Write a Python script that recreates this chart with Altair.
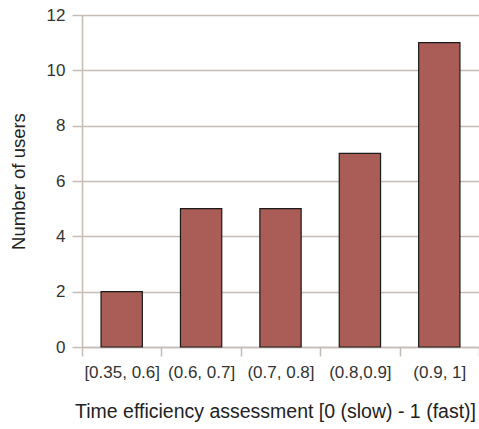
import altair as alt
import pandas as pd

categories = ["[0.35, 0.6]", "(0.6, 0.7]", "(0.7, 0.8]", "(0.8,0.9]", "(0.9, 1]"]
users = [2, 5, 5, 7, 11]

df = pd.DataFrame({"cat": categories, "users": users})

grid_col = "#c4bcb5"
font = "Liberation Sans"

chart = alt.Chart(df).mark_bar(
    width=alt.RelativeBandSize(0.52),
    fill="#aa5c56",
    stroke="#1a1a1a",
    strokeWidth=1.2,
).encode(
    x=alt.X(
        "cat:N",
        sort=categories,
        scale=alt.Scale(paddingInner=0, paddingOuter=0),
        axis=alt.Axis(
            title="Time efficiency assessment [0 (slow) - 1 (fast)]",
            labelAngle=0,
            tickBand="extent",
            tickSize=9,
            tickColor=grid_col,
            tickWidth=1.5,
            domainColor=grid_col,
            domainWidth=1.5,
            labelFont=font,
            labelFontSize=17,
            labelColor="#333333",
            labelPadding=8,
            titleFont=font,
            titleFontSize=19.5,
            titleFontWeight="normal",
            titleColor="#222222",
            titlePadding=22,
            titleX=193,
            grid=False,
        ),
    ),
    y=alt.Y(
        "users:Q",
        scale=alt.Scale(domain=[0, 12]),
        axis=alt.Axis(
            title="Number of users",
            values=[0, 2, 4, 6, 8, 10, 12],
            tickSize=10,
            tickColor=grid_col,
            tickWidth=1.5,
            gridColor=grid_col,
            gridWidth=1.5,
            domainColor=grid_col,
            domainWidth=1.5,
            labelFont=font,
            labelFontSize=17,
            labelColor="#333333",
            labelPadding=7,
            titleFont=font,
            titleFontSize=18.5,
            titleFontWeight="normal",
            titleColor="#222222",
            titlePadding=18,
        ),
    ),
).properties(
    width=397,
    height=332,
    padding={"left": 82, "top": 15, "right": 0, "bottom": 82},
    autosize=alt.AutoSizeParams(type="none"),
).configure_view(stroke=None)

chart.save("out.html", embed_options={"renderer": "svg", "actions": False})
